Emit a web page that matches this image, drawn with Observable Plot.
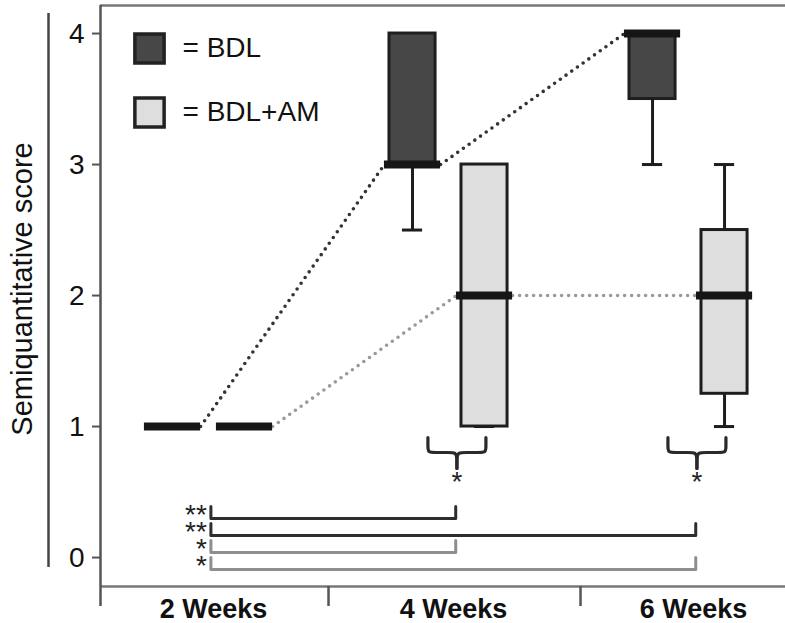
<!DOCTYPE html>
<html><head><meta charset="utf-8">
<script src="https://cdn.jsdelivr.net/npm/d3@7"></script>
<script src="https://cdn.jsdelivr.net/npm/@observablehq/plot@0.6"></script>
<style>body{margin:0;background:#fff;} #chart{width:785px;height:623px;overflow:hidden;}</style>
</head><body><div id="chart"></div>
<script>
// ---- data ----
const weeks = ["2 Weeks", "4 Weeks", "6 Weeks"];
const groups = ["BDL", "BDL+AM"];
const groupFill = ["#474747", "#dedede"];
const groupDot = ["#333333", "#9a9a9a"];
const bdlMin = [1, 2.5, 3];
const bdlQ1  = [1, 3, 3.5];
const bdlMed = [1, 3, 4];
const bdlQ3  = [1, 4, 4];
const bdlMax = [1, 4, 4];
const amMin = [1, 1, 1];
const amQ1  = [1, 1, 1.25];
const amMed = [1, 2, 2];
const amQ3  = [1, 3, 2.5];
const amMax = [1, 3, 3];
const yTicks = [0, 1, 2, 3, 4];
const yLabel = "Semiquantitative score";
// significance vs 2 weeks (within group)
const compFrom  = ["2 Weeks", "2 Weeks", "2 Weeks", "2 Weeks"];
const compTo    = ["4 Weeks", "6 Weeks", "4 Weeks", "6 Weeks"];
const compGroup = ["BDL", "BDL", "BDL+AM", "BDL+AM"];
const compLabel = ["**", "**", "*", "*"];
// significance BDL vs BDL+AM
const pairWeeks = ["4 Weeks", "6 Weeks"];
const pairLabel = ["*", "*"];

// ---- layout ----
const W = 785, H = 623, mL = 100, mR = 0, mT = 5, mB = 37;
const xDomain = [-0.45, 2.404];
const yDomain = [-0.221, 4.214];
const kx = (xDomain[1] - xDomain[0]) / (W - mL - mR);
const ky = (yDomain[1] - yDomain[0]) / (H - mT - mB);
const yv = px => yDomain[1] - (px - mT) * ky;
const gOff = [-0.15, 0.15], boxHalf = 0.096, medHalf = 0.117, capHalf = 0.042;

const summaries = [
  [bdlMin, bdlQ1, bdlMed, bdlQ3, bdlMax],
  [amMin, amQ1, amMed, amQ3, amMax]
];
const boxes = [];
groups.forEach((g, gi) => weeks.forEach((w, wi) => {
  const [mn, q1, md, q3, mx] = summaries[gi].map(a => a[wi]);
  boxes.push({group: g, gi, week: w, xc: wi + gOff[gi], min: mn, q1, med: md, q3, max: mx});
}));
const links = [];
groups.forEach((g, gi) => {
  const b = boxes.filter(d => d.gi === gi);
  for (let i = 0; i < b.length - 1; i++)
    links.push({gi, x1: b[i].xc + medHalf, y1: b[i].med, x2: b[i + 1].xc - medHalf, y2: b[i + 1].med});
});

// brackets (comparisons with 2 weeks)
const bracketPts = [];
compFrom.forEach((f, k) => {
  const x1 = weeks.indexOf(f) + 0.01, x2 = weeks.indexOf(compTo[k]) + 0.03;
  const yl = yv(518 + 17 * k), up = 12 * ky;
  const c = compGroup[k] === "BDL" ? "#2e2e2e" : "#8e8e8e";
  [[x1, yl + up], [x1, yl], [x2, yl], [x2, yl + up]].forEach(([x, y]) => bracketPts.push({k, x, y, c}));
});
const bracketText = [{x: weeks.indexOf(compFrom[0]) + 0.01, y: yv(511), t: compLabel.join("\n")}];

// curly braces under BDL vs BDL+AM pairs
const braceHalf = [[-29, 0], [-29, 9], [-29, 15], [-22, 15], [-8, 15], [-1, 15], [0, 20], [0, 31]];
const bracePts = [], braceText = [];
pairWeeks.forEach((w, p) => {
  const cx = weeks.indexOf(w) + 0.035, top = yv(437);
  [-1, 1].forEach(s => braceHalf.forEach(([dx, dy]) =>
    bracePts.push({z: p * 2 + (s > 0 ? 1 : 0), x: cx + s * dx * kx, y: top - dy * ky})));
  braceText.push({x: cx, y: yv(471), t: pairLabel[p]});
});

const font = "'Liberation Sans', Arial, Helvetica, sans-serif";
const chart = Plot.plot({
  width: W, height: H,
  marginLeft: mL, marginRight: mR, marginTop: mT, marginBottom: mB,
  x: {domain: xDomain},
  y: {domain: yDomain},
  style: {fontFamily: font, fontSize: "27px", color: "#111", background: "#fff"},
  marks: [
    // frame
    Plot.ruleY([yDomain[1]], {stroke: "#777", strokeWidth: 2.5}),
    Plot.ruleY([yDomain[0]], {stroke: "#777", strokeWidth: 2.5}),
    Plot.ruleX([xDomain[0]], {y1: yDomain[1], y2: yv(606), stroke: "#555", strokeWidth: 2.5}),
    Plot.ruleX([xDomain[0] - 52 * kx], {y1: yv(13), y2: yv(567), stroke: "#444", strokeWidth: 2.5}),
    Plot.ruleX([0.5, 1.55], {y1: yDomain[0], y2: yv(606), stroke: "#555", strokeWidth: 2.5}),
    Plot.axisY(yTicks, {tickSize: 8, tickPadding: 8, tickFormat: d => String(d), stroke: "#555", strokeWidth: 2, fontSize: 28, label: null}),
    Plot.axisX([0, 1, 2], {tickSize: 0, tickPadding: 12, tickFormat: i => weeks[i], fontWeight: "bold", fontSize: 27, dx: 5, label: null}),
    Plot.text([yLabel], {frameAnchor: "left", textAnchor: "middle", dx: -78, dy: -7, rotate: -90, fontSize: 29, fill: "#111"}),
    // dotted median connectors
    Plot.link(links, {x1: "x1", y1: "y1", x2: "x2", y2: "y2", stroke: d => groupDot[d.gi], strokeWidth: 3.6, strokeDasharray: "0 7", strokeLinecap: "round"}),
    // whiskers
    Plot.ruleX(boxes, {x: "xc", y1: "min", y2: "q1", stroke: "#1e1e1e", strokeWidth: 3}),
    Plot.ruleX(boxes, {x: "xc", y1: "q3", y2: "max", stroke: "#1e1e1e", strokeWidth: 3}),
    Plot.ruleY(boxes, {y: "min", x1: d => d.xc - capHalf, x2: d => d.xc + capHalf, stroke: "#1e1e1e", strokeWidth: 3}),
    Plot.ruleY(boxes, {y: "max", x1: d => d.xc - capHalf, x2: d => d.xc + capHalf, stroke: "#1e1e1e", strokeWidth: 3}),
    // boxes
    Plot.rect(boxes, {x1: d => d.xc - boxHalf, x2: d => d.xc + boxHalf, y1: "q1", y2: "q3", fill: d => groupFill[d.gi], stroke: "#1e1e1e", strokeWidth: 3}),
    // medians
    Plot.ruleY(boxes, {y: "med", x1: d => d.xc - medHalf, x2: d => d.xc + medHalf, stroke: "#161616", strokeWidth: 8}),
    // braces + stars
    Plot.line(bracePts, {x: "x", y: "y", z: "z", curve: "basis", stroke: "#2a2a2a", strokeWidth: 3.2}),
    Plot.text(braceText, {x: "x", y: "y", text: "t", lineAnchor: "top", fontSize: 28, fill: "#222"}),
    // comparison brackets
    Plot.line(bracketPts, {x: "x", y: "y", z: "k", stroke: "c", strokeWidth: 3}),
    Plot.text(bracketText, {x: "x", y: "y", text: "t", fill: "#222", textAnchor: "end", lineAnchor: "top", lineHeight: 17 / 28, dx: -4, fontSize: 28}),
    // legend
    ...groups.map((g, i) => Plot.dot([g], {frameAnchor: "top-left", dx: 49, dy: 43 + 64 * i, symbol: "square", r: 16.5, fill: groupFill[i], stroke: "#222", strokeWidth: 3.5})),
    ...groups.map((g, i) => Plot.text([g], {frameAnchor: "top-left", dx: 82, dy: 43 + 64 * i, text: d => "= " + d, textAnchor: "start", lineAnchor: "middle", fontSize: 28, fill: "#111"}))
  ]
});
document.getElementById("chart").appendChild(chart);
</script>
</body></html>
